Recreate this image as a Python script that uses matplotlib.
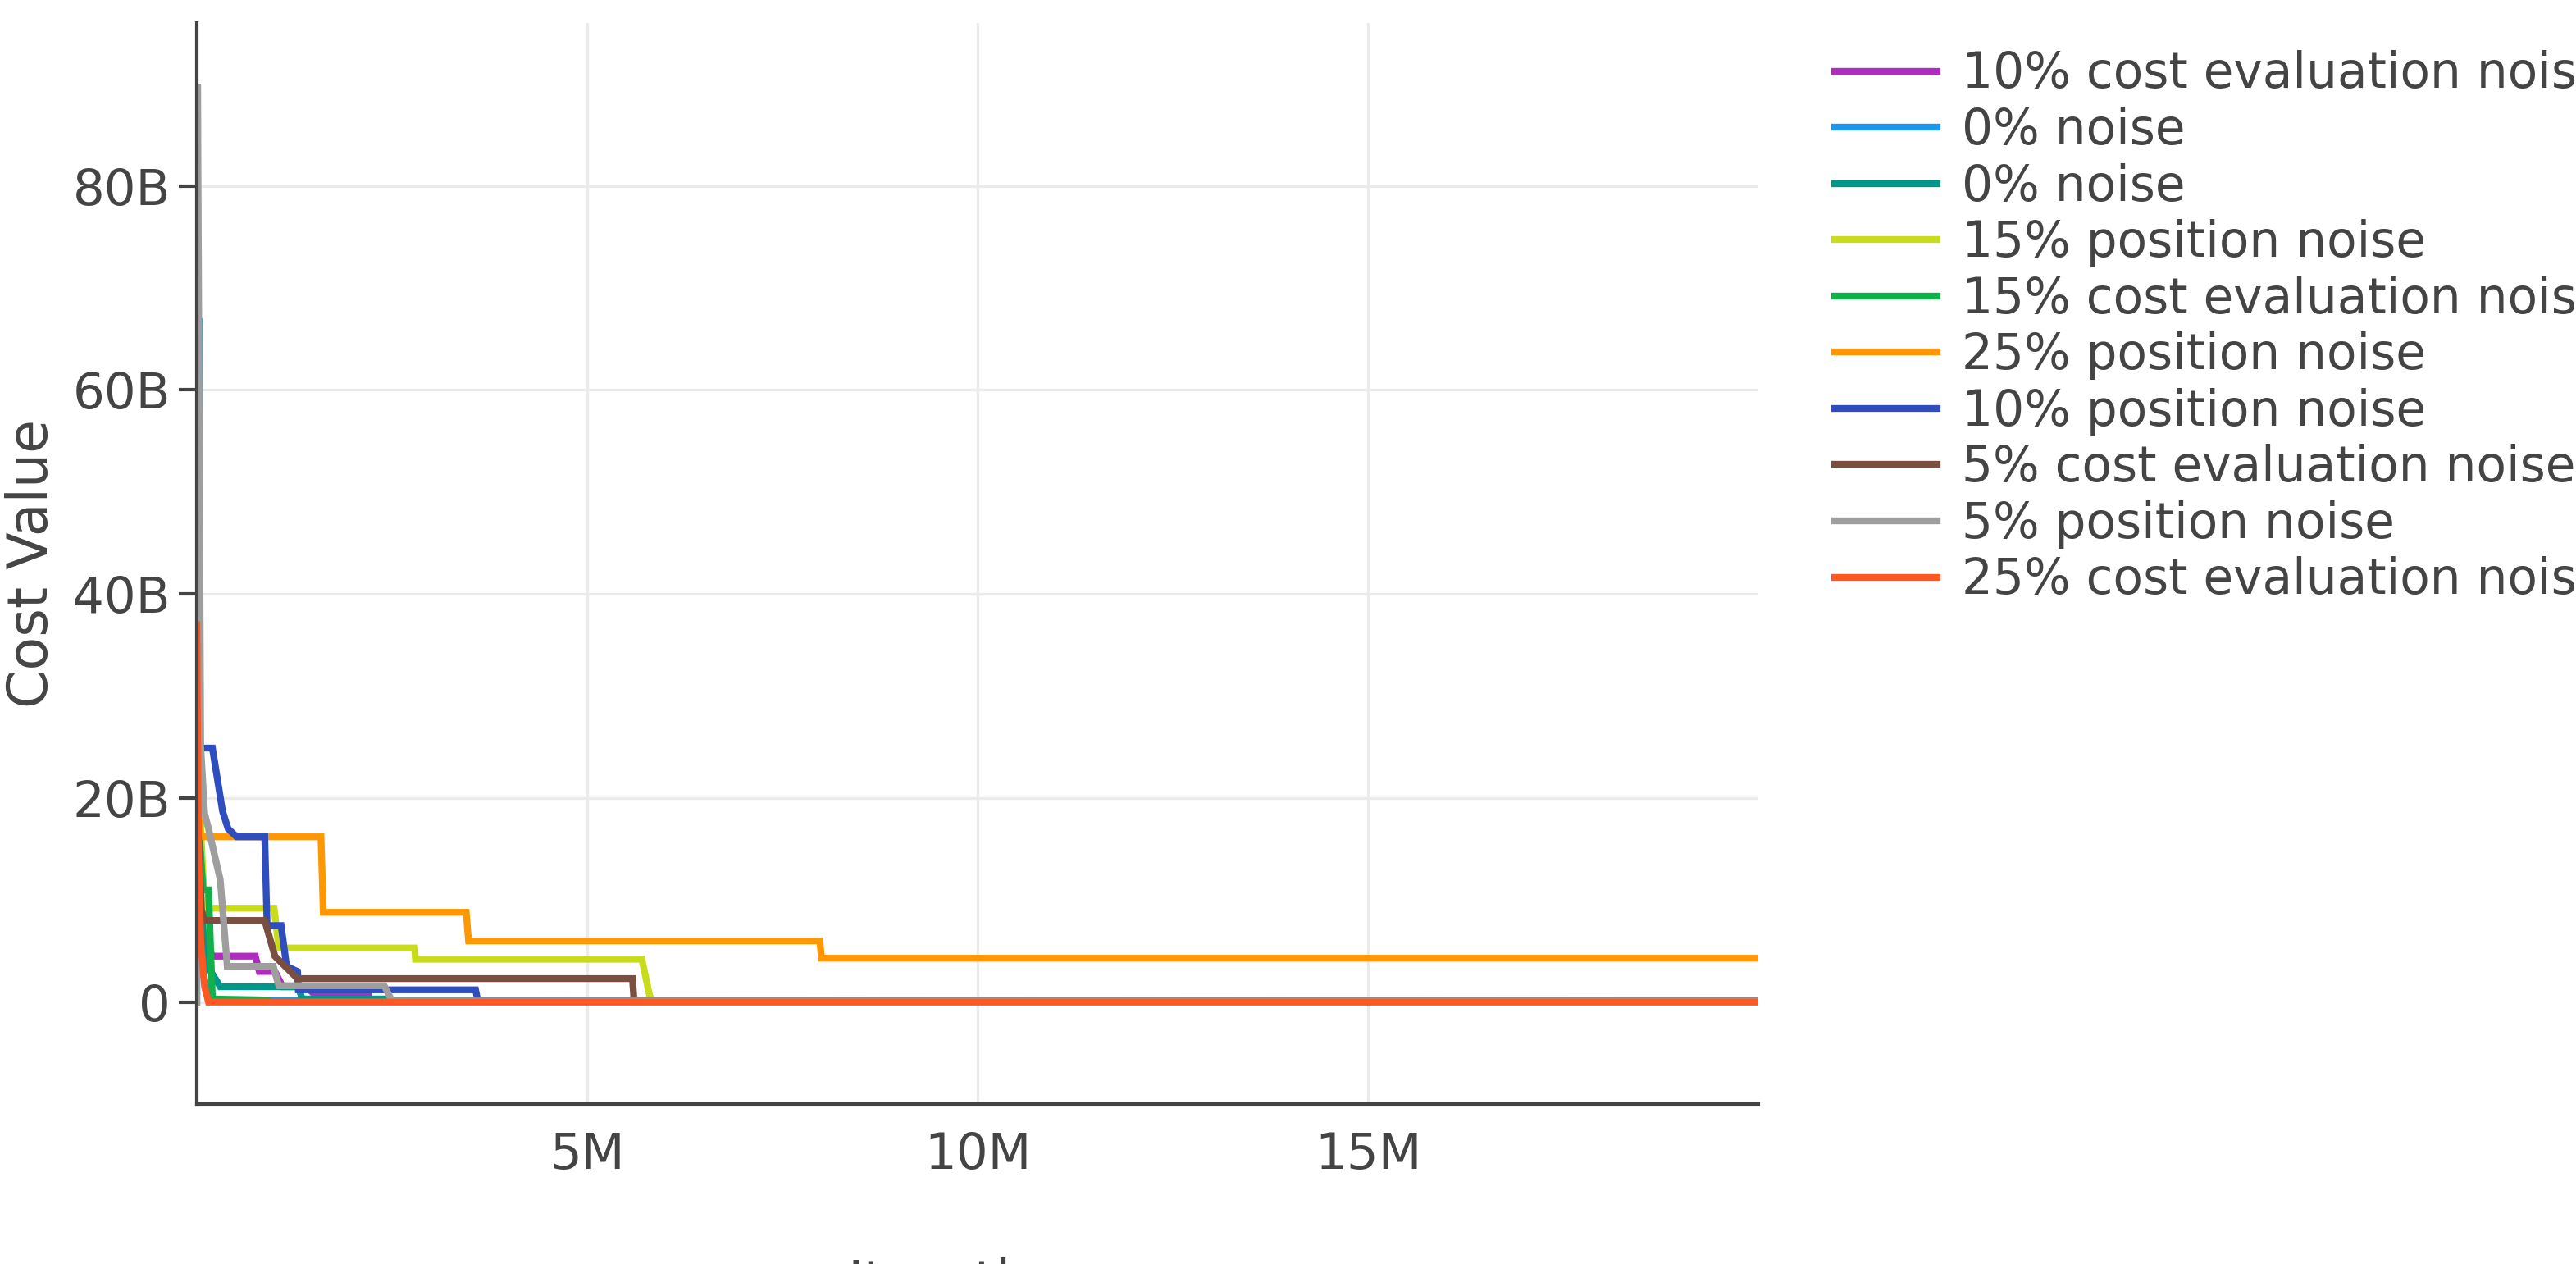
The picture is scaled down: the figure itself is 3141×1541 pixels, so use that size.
import matplotlib.pyplot as plt
from matplotlib.ticker import FuncFormatter

plt.rcParams['font.family'] = ['DejaVu Sans']

# iterations in millions, cost in billions (vertices of the step curves)
labels = ['10% cost evaluation noise', '0% noise', '0% noise', '15% position noise',
          '15% cost evaluation noise', '25% position noise', '10% position noise',
          '5% cost evaluation noise', '5% position noise', '25% cost evaluation noise']
colors = ['#B02BC0', '#1E96EC', '#00968A', '#C8DC1C', '#10B04A', '#FF9800',
          '#2E4DBF', '#7B4F40', '#9E9E9E', '#FF5722']

x_purple = [0.0, 0.02, 0.06, 0.2, 0.75, 0.8, 1.0, 1.1, 1.4, 1.5, 2.2, 2.2, 20]
y_purple = [30.0, 9.0, 7.0, 4.5, 4.5, 3.0, 3.0, 1.5, 1.5, 0.8, 0.8, 0.1, 0.1]
x_lblue = [0.0, 0.03, 0.04, 0.08, 0.15, 20]
y_lblue = [0.0, 67.0, 20.0, 3.0, 0.2, 0.15]
x_teal = [0.0, 0.03, 0.1, 0.3, 1.3, 1.35, 2.4, 2.4, 20]
y_teal = [30.0, 15.0, 4.0, 1.5, 1.5, 0.3, 0.3, 0.1, 0.1]
x_lime = [0.0, 0.1, 0.99, 1.05, 2.79, 2.8, 5.70, 5.8, 5.85, 20]
y_lime = [25.0, 9.2, 9.2, 5.3, 5.3, 4.2, 4.2, 0.6, 0.1, 0.1]
x_green = [0.0, 0.08, 0.15, 0.2, 0.9, 0.9, 20]
y_green = [20.0, 11.0, 11.0, 0.3, 0.2, 0.05, 0.05]
x_orange = [0.0, 0.05, 1.59, 1.62, 3.45, 3.48, 7.98, 8.0, 20]
y_orange = [20.0, 16.2, 16.2, 8.8, 8.8, 6.0, 6.0, 4.3, 4.3]
x_blue = [0.0, 0.05, 0.2, 0.33, 0.4, 0.51, 0.87, 0.9, 1.08, 1.15, 1.29, 1.3, 3.57, 3.6, 20]
y_blue = [30.0, 24.9, 24.9, 18.7, 17.0, 16.2, 16.2, 7.5, 7.5, 3.5, 3.0, 1.2, 1.2, 0.1, 0.1]
x_brown = [0.0, 0.06, 0.1, 0.87, 1.0, 1.29, 5.58, 5.6, 20]
y_brown = [20.0, 9.0, 8.0, 8.0, 4.5, 2.3, 2.3, 0.1, 0.1]
x_gray = [0.0, 0.01, 0.05, 0.1, 0.15, 0.3, 0.39, 0.98, 1.05, 2.4, 2.5, 20]
y_gray = [0.0, 90.0, 25.0, 18.5, 17.0, 12.0, 3.5, 3.5, 1.6, 1.6, 0.1, 0.1]
x_red = [0.0, 0.02, 0.05, 0.1, 0.15, 20]
y_red = [37.0, 15.0, 6.0, 1.5, 0.0, 0.0]

xs = [x_purple, x_lblue, x_teal, x_lime, x_green, x_orange, x_blue, x_brown, x_gray, x_red]
ys = [y_purple, y_lblue, y_teal, y_lime, y_green, y_orange, y_blue, y_brown, y_gray, y_red]

fig = plt.figure(figsize=(15.705, 7.705), dpi=200)
ax = fig.add_axes([0.0764, 0.1265, 0.6062, 0.8555])

for x, y, c, lab in zip(xs, ys, colors, labels):
    ax.plot([v * 1e6 for v in x], [v * 1e9 for v in y], color=c, lw=3.0, label=lab,
            solid_joinstyle='miter')

ax.set_xlim(0, 20e6)
ax.set_ylim(-10e9, 96e9)
ax.set_xticks([5e6, 10e6, 15e6])
ax.set_yticks([0, 20e9, 40e9, 60e9, 80e9])
ax.xaxis.set_major_formatter(FuncFormatter(lambda v, p: f'{v / 1e6:.0f}M'))
ax.yaxis.set_major_formatter(FuncFormatter(lambda v, p: '0' if v == 0 else f'{v / 1e9:.0f}B'))
ax.grid(True, color='#EBEBEB', lw=1.2)
ax.set_axisbelow(True)

for s in ['top', 'right']:
    ax.spines[s].set_visible(False)
for s in ['left', 'bottom']:
    ax.spines[s].set_color('#444444')
    ax.spines[s].set_linewidth(1.5)
ax.tick_params(axis='y', length=8, width=1.5, color='#444444', labelsize=22, labelcolor='#444444')
ax.tick_params(axis='x', length=0, labelsize=22, labelcolor='#444444', pad=12)

ax.set_xlabel('Iterations', fontsize=24, color='#444444', labelpad=34)
ax.set_ylabel('Cost Value', fontsize=24, color='#444444', labelpad=6)

fig.legend(loc='upper left', bbox_to_anchor=(0.695, 0.995), frameon=False, fontsize=21.5,
           handlelength=2.1, handletextpad=0.5, labelspacing=0.16, labelcolor='#444444')

fig.savefig('out.png', dpi=200)
